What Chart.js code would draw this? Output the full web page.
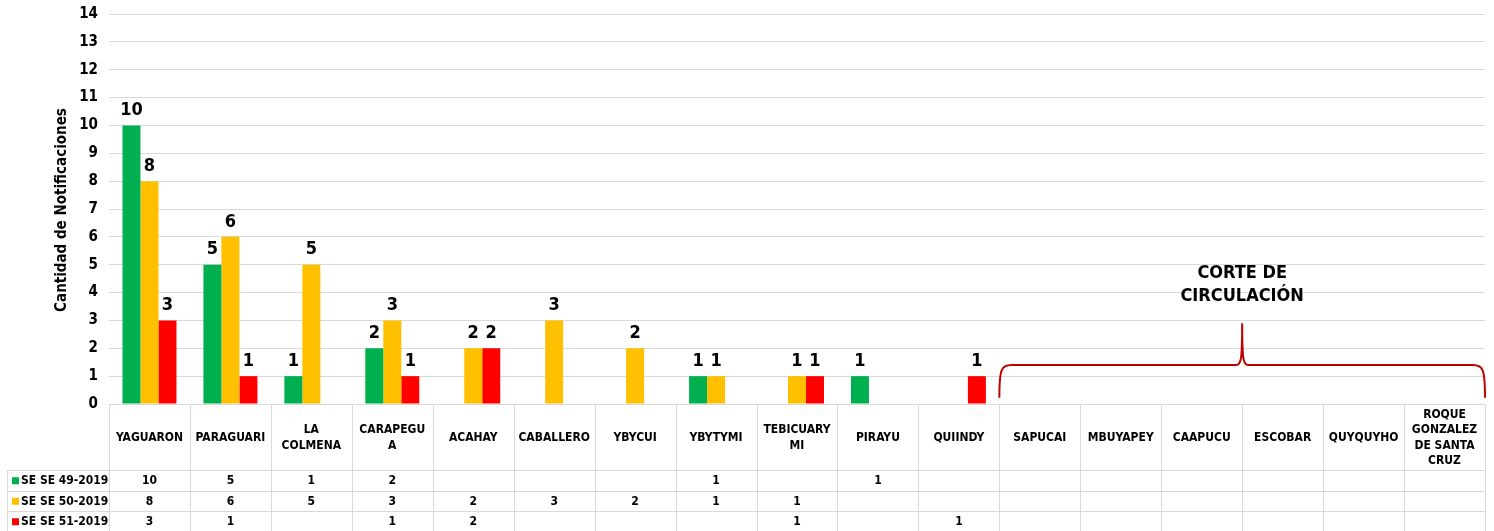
<!DOCTYPE html>
<html>
<head>
<meta charset="utf-8">
<script src="https://cdn.jsdelivr.net/npm/chart.js@4.4.0/dist/chart.umd.min.js"></script>
<style>
  body { margin: 0; background: #fff; }
  #wrap { width: 1494px; height: 531px; }
</style>
</head>
<body>
<div id="wrap"><canvas id="chart" width="1494" height="531"></canvas></div>
<script>
// categories (header lines of the data table)
var categories = [
  ['YAGUARON'], ['PARAGUARI'], ['LA', 'COLMENA'], ['CARAPEGU', 'A'], ['ACAHAY'],
  ['CABALLERO'], ['YBYCUI'], ['YBYTYMI'], ['TEBICUARY', 'MI'], ['PIRAYU'], ['QUIINDY'],
  ['SAPUCAI'], ['MBUYAPEY'], ['CAAPUCU'], ['ESCOBAR'], ['QUYQUYHO'],
  ['ROQUE', 'GONZALEZ', 'DE SANTA', 'CRUZ']
];
var seriesNames = ['SE SE 49-2019', 'SE SE 50-2019', 'SE SE 51-2019'];
var se49 = [10, 5, 1, 2, null, null, null, 1, null, 1, null, null, null, null, null, null, null];
var se50 = [8, 6, 5, 3, 2, 3, 2, 1, 1, null, null, null, null, null, null, null, null];
var se51 = [3, 1, null, 1, 2, null, null, null, 1, null, 1, null, null, null, null, null, null];
var colors = ['#00b050', '#ffc000', '#ff0000'];
var yTicks = [0, 14, 1]; // min, max, step
var axisTitle = 'Cantidad de Notificaciones';
var noteText = ['CORTE DE', 'CIRCULACIÓN'];

var FONT = "'DejaVu Sans Condensed', 'DejaVu Sans', sans-serif";
var gridColor = '#d9d9d9';

var extras = {
  id: 'extras',
  afterDraw: function(chart) {
    var ctx = chart.ctx;
    var x = chart.scales.x, y = chart.scales.y;
    var area = chart.chartArea;
    var n = categories.length;
    var colW = (area.right - area.left) / n;
    ctx.save();

    // value labels above the bars
    ctx.fillStyle = '#000';
    ctx.font = 'bold 18px ' + FONT;
    ctx.textAlign = 'center';
    ctx.textBaseline = 'bottom';
    chart.data.datasets.forEach(function(ds, di) {
      var meta = chart.getDatasetMeta(di);
      meta.data.forEach(function(bar, i) {
        var v = ds.data[i];
        if (v === null || v === undefined) return;
        ctx.fillText(String(v), bar.x, bar.y - 6);
      });
    });

    // y axis title
    ctx.save();
    ctx.translate(62, (area.top + area.bottom) / 2 + 1);
    ctx.rotate(-Math.PI / 2);
    ctx.font = 'bold 15px ' + FONT;
    ctx.textBaseline = 'middle';
    ctx.fillText(axisTitle, 0, 0);
    ctx.restore();

    // data table
    var top = area.bottom;
    var headBottom = 470;
    var rowH = 20.5;
    var rowsBottom = chart.height;
    ctx.strokeStyle = gridColor;
    ctx.lineWidth = 1;
    ctx.beginPath();
    for (var i = 0; i <= n; i++) {
      var bx = Math.round(area.left + i * colW) + 0.5;
      ctx.moveTo(bx, top); ctx.lineTo(bx, rowsBottom);
    }
    ctx.moveTo(area.left, top + 0.5); ctx.lineTo(area.right, top + 0.5);
    for (var r = 0; r < 3; r++) {
      var ly = Math.round(headBottom + r * rowH) + 0.5;
      ctx.moveTo(7, ly); ctx.lineTo(area.right, ly);
    }
    ctx.moveTo(7.5, headBottom); ctx.lineTo(7.5, rowsBottom);
    ctx.stroke();

    // header labels
    ctx.fillStyle = '#000';
    ctx.font = 'bold 12px ' + FONT;
    ctx.textBaseline = 'middle';
    ctx.textAlign = 'center';
    var lh = 15.5;
    categories.forEach(function(lines, i) {
      var cx = x.getPixelForValue(i);
      var cy = (top + headBottom) / 2 + 1;
      var y0 = cy - (lines.length - 1) * lh / 2;
      lines.forEach(function(t, k) { ctx.fillText(t, cx, y0 + k * lh); });
    });

    // data rows
    var allSeries = [se49, se50, se51];
    allSeries.forEach(function(vals, r) {
      var cy = headBottom + r * rowH + rowH / 2 + 1;
      ctx.fillStyle = colors[r];
      ctx.fillRect(12, cy - 4, 7, 7);
      ctx.fillStyle = '#000';
      ctx.textAlign = 'left';
      ctx.fillText(seriesNames[r], 21, cy);
      ctx.textAlign = 'center';
      vals.forEach(function(v, i) {
        if (v === null) return;
        ctx.fillText(String(v), x.getPixelForValue(i), cy);
      });
    });

    // bracket "corte de circulacion"
    var bl = area.left + 11 * colW;
    var br = area.right;
    var bm = area.left + 14 * colW;
    var hy = y.getPixelForValue(1.4);
    var by = y.getPixelForValue(0.22);
    var py = y.getPixelForValue(2.9);
    ctx.strokeStyle = '#c00000';
    ctx.lineWidth = 2;
    ctx.beginPath();
    ctx.moveTo(bl, by);
    ctx.bezierCurveTo(bl, hy + 4, bl + 2, hy, bl + 12, hy);
    ctx.lineTo(bm - 6, hy);
    ctx.bezierCurveTo(bm - 1, hy, bm, hy - 6, bm, py);
    ctx.bezierCurveTo(bm, hy - 6, bm + 1, hy, bm + 6, hy);
    ctx.lineTo(br - 12, hy);
    ctx.bezierCurveTo(br - 2, hy, br, hy + 4, br, by);
    ctx.stroke();

    ctx.fillStyle = '#000';
    ctx.font = 'bold 18px ' + FONT;
    ctx.textAlign = 'center';
    ctx.textBaseline = 'middle';
    ctx.fillText(noteText[0], bm, 273);
    ctx.fillText(noteText[1], bm, 296);

    ctx.restore();
  }
};

new Chart(document.getElementById('chart'), {
  type: 'bar',
  data: {
    labels: categories,
    datasets: [
      { label: seriesNames[0], data: se49, backgroundColor: colors[0] },
      { label: seriesNames[1], data: se50, backgroundColor: colors[1] },
      { label: seriesNames[2], data: se51, backgroundColor: colors[2] }
    ]
  },
  options: {
    responsive: false,
    animation: false,
    layout: { padding: { top: 14, right: 9, bottom: 127, left: 0 } },
    datasets: { bar: { categoryPercentage: 0.667, barPercentage: 1.0 } },
    plugins: { legend: { display: false }, tooltip: { enabled: false } },
    scales: {
      x: { display: false, grid: { display: false } },
      y: {
        min: yTicks[0], max: yTicks[1],
        afterFit: function(scale) { scale.width = 109; },
        border: { display: false },
        grid: { color: gridColor, drawTicks: false },
        ticks: {
          stepSize: yTicks[2], padding: 11, color: '#000',
          font: { family: FONT, weight: 'bold', size: 15, lineHeight: 0.4 }
        }
      }
    }
  },
  plugins: [extras]
});
</script>
</body>
</html>
